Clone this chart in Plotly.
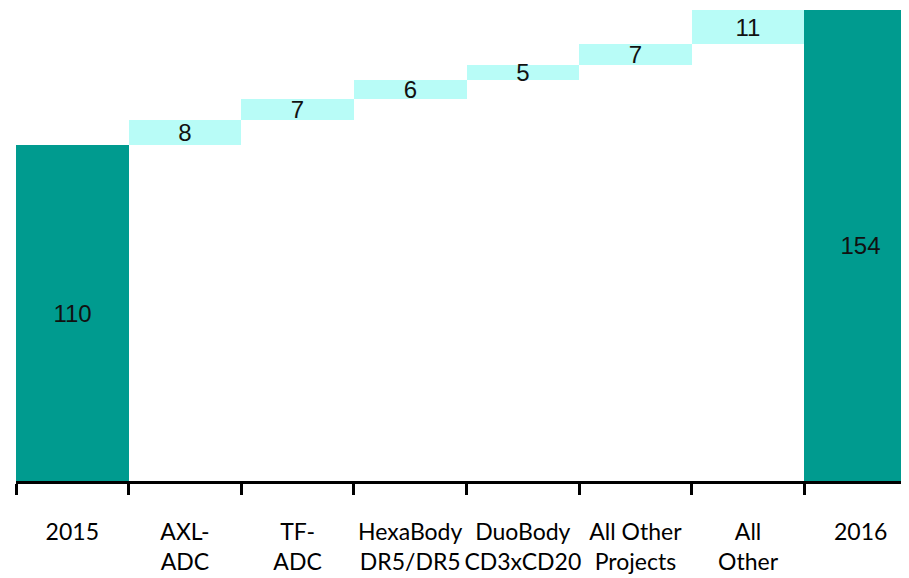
import plotly.graph_objects as go

categories = ["2015", "AXL-ADC", "TF-ADC", "HexaBody DR5/DR5", "DuoBody CD3xCD20",
              "All Other Projects", "All Other", "2016"]
tick_labels = ["2015", "AXL-<br>ADC", "TF-<br>ADC", "HexaBody<br>DR5/DR5", "DuoBody<br>CD3xCD20",
               "All Other<br>Projects", "All<br>Other", "2016"]
values = [110, 8, 7, 6, 5, 7, 11, 154]
measures = ["absolute", "relative", "relative", "relative", "relative", "relative", "relative", "total"]

TEAL = "#009B8F"
CYAN = "#B8FCF7"

fig = go.Figure(go.Waterfall(
    x=categories,
    y=[v if m != "total" else 0 for v, m in zip(values, measures)],
    measure=measures,
    text=[str(v) for v in values],
    textposition="inside",
    insidetextanchor="middle",
    constraintext="none",
    textangle=0,
    textfont=dict(family="Liberation Sans, Arial", size=24, color="#111111"),
    increasing=dict(marker=dict(color=CYAN, line=dict(width=0))),
    decreasing=dict(marker=dict(color=CYAN, line=dict(width=0))),
    totals=dict(marker=dict(color=TEAL, line=dict(width=0))),
    connector=dict(visible=False),
    hoverinfo="skip",
))

fig.update_layout(
    width=909, height=578,
    margin=dict(l=8, r=0, t=0, b=105),
    paper_bgcolor="white", plot_bgcolor="white",
    waterfallgap=0,
    showlegend=False,
    uniformtext=dict(minsize=24, mode="show"),
    xaxis=dict(
        type="category",
        tickmode="array", tickvals=categories, ticktext=tick_labels,
        range=[-0.5, 7.5],
        automargin=False,
        tickangle=0,
        showline=True, linecolor="black", linewidth=3,
        ticks="outside", ticklen=11, tickwidth=3, tickcolor="black",
        tickson="boundaries",
        ticklabelstandoff=28,
        tickfont=dict(family="Lato", size=23, color="black"),
        showgrid=False, zeroline=False,
    ),
    yaxis=dict(range=[0, 154.65], visible=False, showgrid=False, zeroline=False,
               automargin=False),
)

fig.write_html("out.html")
